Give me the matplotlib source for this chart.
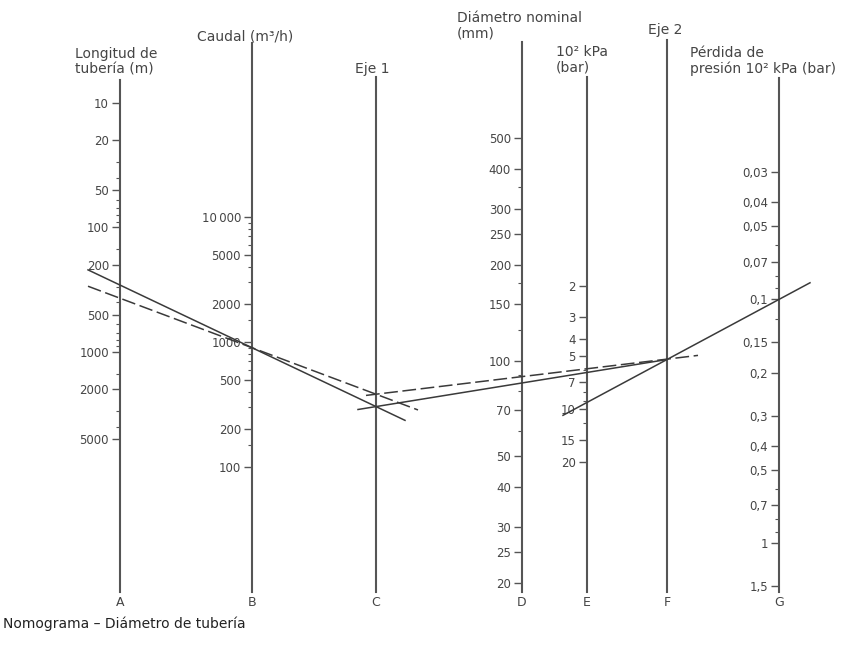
import numpy as np
import matplotlib
matplotlib.use("Agg")
import matplotlib.pyplot as plt
from matplotlib.ticker import NullFormatter

plt.rcParams['font.family'] = ['DejaVu Sans']

W, H = 855, 660

# scale values
longitud = [10, 20, 50, 100, 200, 500, 1000, 2000, 5000]
longitud_minor = [30, 40, 60, 70, 80, 90, 150, 300, 400, 600, 700, 800, 900, 1500, 3000, 4000]
caudal = [10000, 5000, 2000, 1000, 500, 200, 100]
caudal_labels = ['10\u2009000', '5000', '2000', '1000', '500', '200', '100']
caudal_minor = [9000, 8000, 7000, 6000, 4000, 3000, 1500, 900, 800, 700, 600, 400, 300, 150]
diametro = [500, 400, 300, 250, 200, 150, 100, 70, 50, 40, 30, 25, 20]
diametro_minor = [350, 175, 125, 90, 80, 60]
presion = [2, 3, 4, 5, 7, 10, 15, 20]
presion_minor = [6, 8, 9, 12]
perdida = [0.03, 0.04, 0.05, 0.07, 0.1, 0.15, 0.2, 0.3, 0.4, 0.5, 0.7, 1, 1.5]
perdida_labels = [str(v).replace('.', ',') for v in perdida]
perdida_minor = [0.06, 0.08, 0.09, 0.12, 0.6, 0.8, 0.9]

# values
longitud_1, longitud_2 = 290, 370
caudal_leido = 900
diametro_1, diametro_2 = 85, 89
perdida_leida = 0.1

axis_col = '#555555'
text_col = '#454545'
line_col = '#3a3a3a'

fig = plt.figure(figsize=(W / 100, H / 100), dpi=100)
fig.patch.set_facecolor('white')


def scale_axis(x, top, bottom, cal=None, ticks=None, labels=None, minor=None):
    ax = fig.add_axes([x / W, 1 - bottom / H, 1 / W, (bottom - top) / H])
    ax.patch.set_visible(False)
    for s in ('top', 'right', 'bottom'):
        ax.spines[s].set_visible(False)
    ax.spines['left'].set_color(axis_col)
    ax.spines['left'].set_linewidth(1.5)
    ax.set_xlim(0, 1)
    ax.set_xticks([])
    if cal is None:
        ax.set_yticks([])
        return ax
    v1, y1, v2, y2 = cal
    k = (y2 - y1) / (np.log10(v2) - np.log10(v1))
    lo = 10 ** (np.log10(v1) + (bottom - y1) / k)
    hi = 10 ** (np.log10(v1) + (top - y1) / k)
    ax.set_yscale('log')
    ax.set_ylim(lo, hi)
    if labels is None:
        labels = [str(v) for v in ticks]
    ax.set_yticks(ticks, labels)
    ax.set_yticks(minor or [], minor=True)
    ax.yaxis.set_minor_formatter(NullFormatter())
    ax.tick_params(axis='y', which='major', direction='out', length=5.5, width=1,
                   color=axis_col, pad=2.5, labelsize=8.5, labelcolor=text_col)
    ax.tick_params(axis='y', which='minor', direction='out', length=3, width=0.8,
                   color=axis_col)
    return ax


axA = scale_axis(120, 80, 592, (10, 103, 5000, 439), longitud, None, longitud_minor)
axB = scale_axis(252, 43, 592, (100, 467, 10000, 217), caudal, caudal_labels, caudal_minor)
axC = scale_axis(376, 77, 592)
axD = scale_axis(522, 42, 592, (500, 138, 20, 583), diametro, None, diametro_minor)
axE = scale_axis(587, 77, 592, (2, 286, 20, 462), presion, None, presion_minor)
axF = scale_axis(667, 40, 592)
axG = scale_axis(779, 78, 592, (0.03, 172, 1.5, 586), perdida, perdida_labels, perdida_minor)

# overlay in pixel units for the reading lines and the titles
ov = fig.add_axes([0, 0, 1, 1], zorder=5)
ov.set_xlim(0, W)
ov.set_ylim(H, 0)
ov.axis('off')
ov.patch.set_visible(False)


def on_scale(ax, v):
    return ov.transData.inverted().transform(ax.transData.transform((0, v)))


def x_of(ax):
    return ov.transData.inverted().transform(ax.transAxes.transform((0, 0)))[0]


def y_at(p, q, x):
    return p[1] + (q[1] - p[1]) / (q[0] - p[0]) * (x - p[0])


def draw(p, q, x0, x1, **kw):
    ov.plot([x0, x1], [y_at(p, q, x0), y_at(p, q, x1)], color=line_col, lw=1.1, **kw)


xC, xF = x_of(axC), x_of(axF)
dash = (0, (9, 3))

# length + flow -> pivot on Eje 1
b = on_scale(axB, caudal_leido)
a1 = on_scale(axA, longitud_1)
a2 = on_scale(axA, longitud_2)
draw(a1, b, 88, 405)
draw(a2, b, 88, 418, linestyle=dash)
c1 = (xC, y_at(a1, b, xC))
c2 = (xC, y_at(a2, b, xC))

# pivot -> diameter -> Eje 2
d1 = on_scale(axD, diametro_1)
d2 = on_scale(axD, diametro_2)
draw(c1, d1, 358, xF)
draw(c2, d2, 366, 698, linestyle=dash)
f = (xF, y_at(c1, d1, xF))

# Eje 2 -> pressure loss
g = on_scale(axG, perdida_leida)
draw(f, g, 563, 810)

# titles
tkw = dict(fontsize=10, color=text_col, ha='left', va='top', linespacing=1.1)
ov.text(75, 47, 'Longitud de\ntubería (m)', **tkw)
ov.text(197, 29, 'Caudal (m³/h)', **tkw)
ov.text(355, 62, 'Eje 1', **tkw)
ov.text(457, 11, 'Diámetro nominal\n(mm)', **tkw)
ov.text(556, 45, '10² kPa\n(bar)', **tkw)
ov.text(648, 23, 'Eje 2', **tkw)
ov.text(690, 46, 'Pérdida de\npresión 10² kPa (bar)', **tkw)

for ax, letter in zip([axA, axB, axC, axD, axE, axF, axG], 'ABCDEFG'):
    ov.text(x_of(ax), 602, letter, fontsize=9, color=text_col, ha='center', va='center')

ov.text(3, 624, 'Nomograma \u2013 Diámetro de tubería', fontsize=10, color='#222222',
        ha='left', va='center')

fig.savefig('out.png', dpi=100)
